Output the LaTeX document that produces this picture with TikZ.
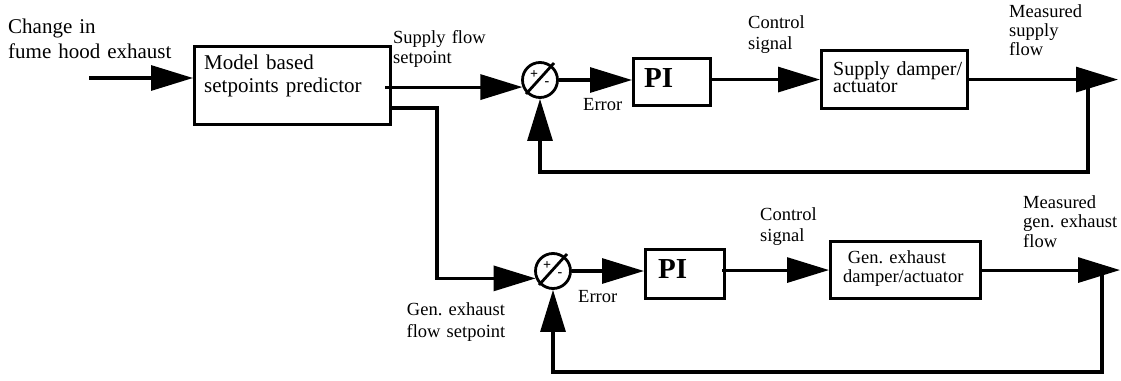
\documentclass[tikz,border=0pt]{standalone}
\usepackage{fontspec}
\setmainfont{Liberation Serif}
\usetikzlibrary{arrows.meta,calc}
\frenchspacing

\tikzset{
  blk/.style={draw, line width=3.1pt, inner sep=0pt, anchor=north west},
  sumc/.style={draw, circle, line width=2.8pt, minimum size=35pt, inner sep=0pt},
  wire/.style={line width=3.1pt},
  sig/.style={wire, -{Triangle[length=42pt,width=25pt]}},
  lbl/.style={anchor=base west, inner sep=0pt, align=left, text width=#1},
  lbl/.default=170pt,
  pm/.style={inner sep=0pt, font=\bfseries\fontsize{14}{14}\selectfont}
}

\begin{document}
\begin{tikzpicture}[
    x=1pt, y=-1pt,
    every node/.style={font=\fontsize{18.5}{20}\selectfont}
]
  \useasboundingbox (0,0) rectangle (1121,380);

  % blocks
  \node[blk, minimum width=196pt, minimum height=78pt] (pred) at (193,45) {};
  \node[blk, minimum width=77pt,  minimum height=47pt] (pi1)  at (632,57) {};
  \node[blk, minimum width=146pt, minimum height=58pt] (dmp1) at (820,49) {};
  \node[blk, minimum width=79pt,  minimum height=49pt] (pi2)  at (644,248) {};
  \node[blk, minimum width=150pt, minimum height=57pt] (dmp2) at (829,240) {};

  \node[sumc] (sum1) at (540,80) {};
  \node[sumc] (sum2) at (553,271) {};
  \foreach \s in {sum1,sum2}{
    \draw[line width=2.8pt] ($(\s)+(-14,14)$) -- ($(\s)+(14,-17)$);
    \node[pm] (\s-p) at ($(\s)+(-6,-5)$) {+};
    \node[pm] (\s-m) at ($(\s)+(7,4)$) {-};
  }

  % texts
  \node[lbl, font=\fontsize{21}{25}\selectfont] (chg) at (8,33)
    {Change in\\fume hood exhaust};
  \node[lbl, font=\fontsize{21}{23}\selectfont] (predt) at (204,69)
    {Model based\\setpoints predictor};
  \node[lbl] (spset) at (393,43) {Supply flow\\setpoint};
  \node[lbl] (err1) at (583,110) {Error};
  \node[lbl, font=\bfseries\fontsize{29}{29}\selectfont] (pi1t) at (644,87) {PI};
  \node[lbl, font=\fontsize{18.5}{21}\selectfont] (ctl1) at (748,28) {Control\\signal};
  \node[lbl, font=\fontsize{20}{17}\selectfont] (dmp1t) at (833,75)
    {Supply damper/\\actuator};
  \node[lbl, font=\fontsize{18.5}{19}\selectfont] (meas1) at (1009,17)
    {Measured\\supply\\flow};

  \node[anchor=base, inner sep=0pt, align=center, text width=120pt,
        font=\fontsize{18.5}{22}\selectfont] (exset) at (456,315)
    {Gen. exhaust\\flow setpoint};
  \node[lbl] (err2) at (578,302) {Error};
  \node[lbl, font=\bfseries\fontsize{29}{29}\selectfont] (pi2t) at (658,278) {PI};
  \node[lbl, font=\fontsize{18.5}{21}\selectfont] (ctl2) at (760,220) {Control\\signal};
  \node[lbl, font=\fontsize{18.5}{19}\selectfont] (dmp2t) at (843,263)
    {\hspace*{4.6pt}Gen. exhaust\\damper/actuator};
  \node[lbl, font=\fontsize{18.5}{19.5}\selectfont] (meas2) at (1023,208)
    {Measured\\gen. exhaust\\flow};

  % signals
  \coordinate (in) at (89,78);
  \coordinate (br) at (437,108);
  \coordinate (out1) at (1118,78);
  \coordinate (out2) at (1120,268);
  \coordinate (fb1) at (1088,172);
  \coordinate (fb2) at (1102,372);

  \draw[sig] (in) -- (in -| pred.west);
  \draw[sig] ($(pred.east |- sum1.202)+(-7,0)$) -- (sum1.202);
  \draw[sig] (sum1.east) -- (sum1.east -| pi1.west);
  \draw[sig] ($(pi1.east |- dmp1.west)+(-3,0)$) -- (dmp1.west);
  \draw[sig] (dmp1.east) -- (out1 |- dmp1.east);
  \draw[sig] (fb1 |- dmp1.east) -- (fb1) -- (fb1 -| sum1.south) -- (sum1.south);

  \draw[sig] (pred.east |- br) -- (br) -- (br |- sum2.203) -- (sum2.203);
  \draw[sig] (sum2.east) -- (sum2.east -| pi2.west);
  \draw[sig] ($(pi2.east |- dmp2.west)+(-4,0)$) -- (dmp2.west);
  \draw[sig] (dmp2.east) -- (out2 |- dmp2.east);
  \draw[sig] (fb2 |- dmp2.east) -- (fb2) -- (fb2 -| sum2.south) -- (sum2.south);
\end{tikzpicture}
\end{document}
